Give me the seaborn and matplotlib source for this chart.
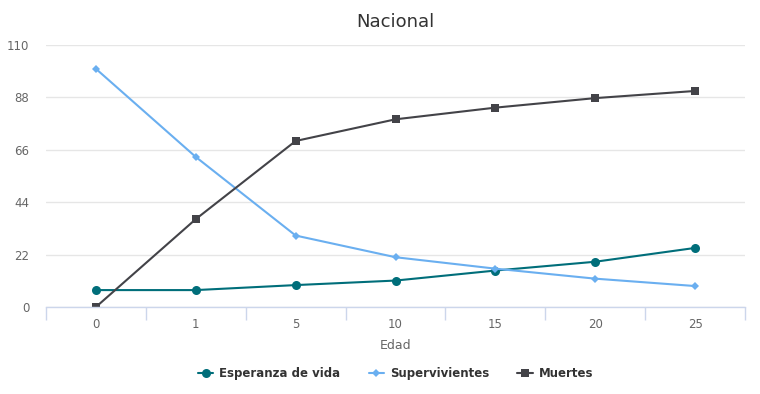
import pandas as pd
import numpy as np
import matplotlib
matplotlib.use('Agg')
import matplotlib.pyplot as plt
import seaborn as sns
from matplotlib.ticker import FixedLocator

# datos
edades = ['0', '1', '5', '10', '15', '20', '25']
esperanza = [7.1, 7.1, 9.2, 11.1, 15.3, 19.0, 24.8]
supervivientes = [100.0, 63.0, 30.0, 20.9, 16.1, 11.9, 8.8]
muertes = [0.0, 36.9, 69.7, 78.8, 83.7, 87.7, 90.7]
y_ticks = [0, 22, 44, 66, 88, 110]

series = ['Esperanza de vida', 'Supervivientes', 'Muertes']
colores = {'Esperanza de vida': '#006e7a', 'Supervivientes': '#6aaff0', 'Muertes': '#434348'}
marcadores = {'Esperanza de vida': 'o', 'Supervivientes': 'D', 'Muertes': 's'}
tamanos = {'Esperanza de vida': 6.5, 'Supervivientes': 4.2, 'Muertes': 6.3}

pos = np.arange(len(edades))
df = pd.DataFrame({
    'pos': np.tile(pos, 3),
    'valor': esperanza + supervivientes + muertes,
    'serie': np.repeat(series, len(edades)),
})

sns.set_style('white')
plt.rcParams['font.family'] = ['DejaVu Sans']

fig = plt.figure(figsize=(7.6, 3.94), dpi=100)
ax = fig.add_axes([46 / 760, 1 - 307 / 394, (745 - 46) / 760, (307 - 45) / 394])

for s in series:
    d = df[df['serie'] == s]
    sns.lineplot(data=d, x='pos', y='valor', ax=ax, color=colores[s],
                 marker=marcadores[s], markersize=tamanos[s],
                 markeredgewidth=0, linewidth=1.5, label=s)

ax.set_xlim(-0.5, len(edades) - 0.5)
ax.set_ylim(0, 110)
ax.set_yticks(y_ticks)
ax.set_xticks(pos)
ax.set_xticklabels(edades)
ax.xaxis.set_minor_locator(FixedLocator(np.arange(-0.5, len(edades), 1.0)))
ax.tick_params(axis='x', which='major', bottom=True, length=0, pad=8, labelsize=8.5, labelcolor='#666666')
ax.tick_params(axis='x', which='minor', bottom=True, length=9, width=1, color='#ccd6eb', direction='out')
ax.tick_params(axis='y', length=0, pad=12, labelsize=8.5, labelcolor='#666666')

ax.grid(axis='y', color='#e6e6e6', linewidth=1)
ax.set_axisbelow(True)
for side in ['top', 'right', 'left']:
    ax.spines[side].set_visible(False)
ax.spines['bottom'].set_color('#ccd6eb')
ax.spines['bottom'].set_linewidth(1)

ax.set_xlabel('Edad', fontsize=9, color='#666666', labelpad=6)
ax.set_ylabel('')
ax.set_title('Nacional', fontsize=13, color='#333333', pad=13)

leg = ax.legend(loc='upper center', bbox_to_anchor=(0.5, -0.19), ncol=3, frameon=False,
                prop={'weight': 'bold', 'size': 8.5}, handlelength=1.3, columnspacing=2.4,
                handletextpad=0.5)
for txt in leg.get_texts():
    txt.set_color('#333333')

fig.savefig('out.png', dpi=100)
